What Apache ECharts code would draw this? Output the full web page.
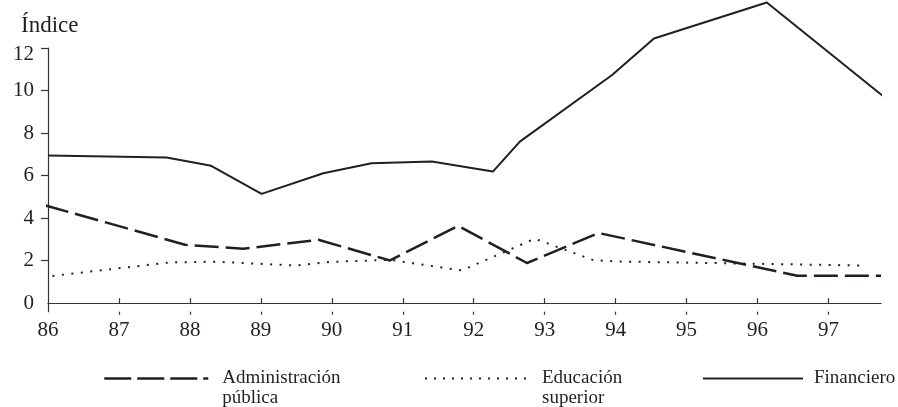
<!DOCTYPE html>
<html>
<head>
<meta charset="utf-8">
<script src="https://cdn.jsdelivr.net/npm/echarts@6/dist/echarts.min.js"></script>
<style>
html,body{margin:0;padding:0;background:#fff;}
#c{width:898px;height:407px;}
</style>
</head>
<body>
<div id="c"></div>
<script>
// ---- data ----
var yTickValues = [2, 4, 6, 8, 10, 12];
var yLabelValues = [0, 2, 4, 6, 8, 10, 12];
var xTickLabels = [86, 87, 88, 89, 90, 91, 92, 93, 94, 95, 96, 97];

var finX = [86, 87.67, 88.30, 89.01, 89.88, 90.56, 91.41, 92.27, 92.65, 93.95, 94.54, 96.13, 97.78];
var finY = [6.94, 6.85, 6.46, 5.14, 6.11, 6.58, 6.66, 6.19, 7.60, 10.73, 12.45, 14.14, 9.71];

var admX = [85.96, 87.93, 88.75, 89.81, 90.82, 91.78, 92.75, 93.76, 96.56, 97.74];
var admY = [4.60, 2.75, 2.56, 2.98, 2.01, 3.64, 1.89, 3.30, 1.29, 1.29];

var eduX = [85.93, 87.72, 88.37, 89.50, 89.97, 90.82, 91.83, 92.86, 93.69, 94.06, 97.52];
var eduY = [1.23, 1.92, 1.95, 1.77, 1.94, 2.04, 1.54, 3.03, 2.02, 1.96, 1.77];

var names = ['Administración pública', 'Educación superior', 'Financiero'];
var legendLabels = ['\nAdministración\npública', '\nEducación\nsuperior', 'Financiero'];

function pairs(xs, ys) { return xs.map(function (x, i) { return [x, ys[i]]; }); }

var INK = '#231f20';
var AXIS = '#333333';
var FONT = "'Liberation Serif', 'Times New Roman', serif";

// legend icon dash patterns (style only)
var dotDash = [];
for (var k = 0; k < 11; k++) { dotDash.push(2, 7); }
dotDash.push(2, 40);

var chart = echarts.init(document.getElementById('c'), null, {renderer: 'canvas'});

function legendFor(idx, left, top, w, dash, width) {
  return {
    data: [names[idx]],
    left: left,
    top: top,
    padding: 0,
    itemWidth: w,
    itemHeight: 14,
    selectedMode: false,
    formatter: function () { return legendLabels[idx]; },
    itemStyle: {color: 'rgba(0,0,0,0)', borderWidth: 0, opacity: 0},
    lineStyle: {type: dash, width: width, color: INK, cap: 'butt'},
    textStyle: {fontFamily: FONT, fontSize: 19, color: INK, lineHeight: 20}
  };
}

var option = {
  backgroundColor: '#fff',
  animation: false,
  title: {
    text: 'Índice', left: 21, top: 14, padding: 0,
    textStyle: {fontFamily: FONT, fontSize: 23, fontWeight: 'normal', color: INK}
  },
  legend: [
    legendFor(0, 103, 348.5, 113, [27, 6, 27, 6, 27, 6, 5, 40], 2.5),
    legendFor(1, 424, 348.5, 112, dotDash, 2),
    legendFor(2, 702, 368.5, 106, [100, 40], 2)
  ],
  grid: {left: 48, right: 17, top: 48, bottom: 95.3, containLabel: false},
  xAxis: [{
    type: 'value', min: 86, max: 97.74, interval: 1,
    axisLine: {show: true, lineStyle: {color: AXIS, width: 1.2}},
    axisTick: {show: true, inside: true, length: 5, lineStyle: {color: AXIS, width: 1.2}, customValues: xTickLabels.slice(1)},
    axisLabel: {customValues: xTickLabels, fontFamily: FONT, fontSize: 21, color: INK, margin: 8},
    splitLine: {show: false}
  }, {
    type: 'value', min: 86, max: 97.74, interval: 1, position: 'bottom',
    axisLine: {show: false},
    axisTick: {show: true, inside: false, length: 3, lineStyle: {color: AXIS, width: 1.2}, customValues: xTickLabels.slice(1)},
    axisLabel: {show: false},
    splitLine: {show: false}
  }],
  yAxis: {
    type: 'value', min: -0.4, max: 12,
    axisLine: {show: true, lineStyle: {color: AXIS, width: 1.2}},
    axisTick: {show: true, inside: false, length: 7, lineStyle: {color: AXIS, width: 1.2}, customValues: yTickValues},
    axisLabel: {
      customValues: yLabelValues, fontFamily: FONT, fontSize: 21, color: INK, margin: 14,
      formatter: function (v) { return v === 12 ? '{t|12}' : String(v); },
      rich: {t: {fontFamily: FONT, fontSize: 21, color: INK, padding: [12, 0, 0, 0]}}
    },
    splitLine: {show: false}
  },
  series: [
    {
      name: names[0], type: 'line', xAxisIndex: 0, data: pairs(admX, admY),
      symbol: 'none', clip: false, silent: true,
      itemStyle: {color: INK},
      lineStyle: {color: INK, width: 2.5, type: [24, 7], cap: 'butt'}
    },
    {
      name: names[1], type: 'line', xAxisIndex: 0, data: pairs(eduX, eduY),
      symbol: 'none', clip: false, silent: true,
      itemStyle: {color: INK},
      lineStyle: {color: INK, width: 2, type: [2, 7.5], cap: 'butt'}
    },
    {
      name: names[2], type: 'line', xAxisIndex: 0, data: pairs(finX, finY),
      symbol: 'none', clip: false, silent: true,
      itemStyle: {color: INK},
      lineStyle: {color: INK, width: 2, type: 'solid'}
    }
  ]
};
chart.setOption(option);
</script>
</body>
</html>
